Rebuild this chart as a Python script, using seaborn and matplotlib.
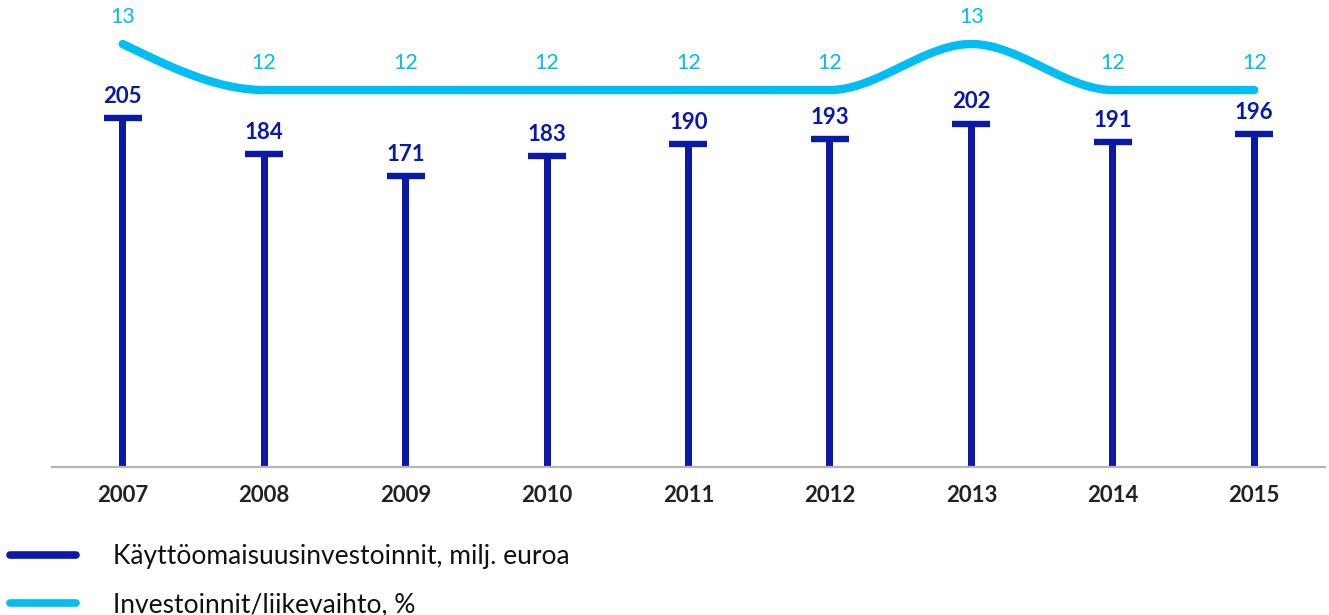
import numpy as np
import matplotlib
matplotlib.use("Agg")
import matplotlib.pyplot as plt
from matplotlib.lines import Line2D
import seaborn as sns

# Data
years = ["2007", "2008", "2009", "2010", "2011", "2012", "2013", "2014", "2015"]
capex = [205, 184, 171, 183, 190, 193, 202, 191, 196]          # milj. euroa
invest_ratio = [13, 12, 12, 12, 12, 12, 13, 12, 12]             # %

DARK = "#0A1AA6"
LIGHT = "#00BDF2"
FONT = "Lato"

sns.set_theme(style="white")
plt.rcParams["font.family"] = [FONT, "DejaVu Sans"]


def monotone_curve(y, samples=60):
    """Monotone cubic Hermite curve through equally spaced points."""
    y = np.asarray(y, dtype=float)
    n = len(y)
    s = np.diff(y)
    t = np.zeros(n)
    for i in range(1, n - 1):
        s0, s1 = s[i - 1], s[i]
        p = (s0 + s1) / 2
        t[i] = (np.sign(s0) + np.sign(s1)) * min(abs(s0), abs(s1), 0.5 * abs(p))
    t[0] = (3 * s[0] - t[1]) / 2
    t[-1] = (3 * s[-1] - t[-2]) / 2
    xs, ys = [], []
    for i in range(n - 1):
        u = np.linspace(0, 1, samples, endpoint=(i == n - 2))
        h00 = 2 * u**3 - 3 * u**2 + 1
        h10 = u**3 - 2 * u**2 + u
        h01 = -2 * u**3 + 3 * u**2
        h11 = u**3 - u**2
        xs.append(i + u)
        ys.append(h00 * y[i] + h10 * t[i] + h01 * y[i + 1] + h11 * t[i + 1])
    return np.concatenate(xs), np.concatenate(ys)


fig = plt.figure(figsize=(13.29, 6.15), dpi=100)
W, H = 1329, 615
ax_left, ax_right = 52 / W, 1325 / W
ax_bottom, ax_top = (H - 467) / H, (H - 10) / H
ax = fig.add_axes([ax_left, ax_bottom, ax_right - ax_left, ax_top - ax_bottom])

# Stems
sns.barplot(x=years, y=capex, width=0.05, color=DARK, saturation=1,
            edgecolor="none", linewidth=0, ax=ax)
# Caps on the stems
sns.scatterplot(x=years, y=capex, marker="_", s=720, linewidth=4.6,
                color=DARK, edgecolor=DARK, ax=ax, zorder=3, legend=False)

ax.set_xlim(-0.5, 8.5)
ax.set_ylim(0, 457 / 1.70)
for i, v in enumerate(capex):
    ax.annotate(str(v), (i, v), xytext=(0, 8), textcoords="offset points",
                ha="center", va="bottom", fontsize=16, fontweight="bold",
                color=DARK, family=[FONT, "DejaVu Sans"])

for side in ["top", "right", "left"]:
    ax.spines[side].set_visible(False)
ax.spines["bottom"].set_color("#B5B5B5")
ax.spines["bottom"].set_linewidth(1.6)
ax.set_yticks([])
ax.set_xlabel("")
ax.set_ylabel("")
ax.tick_params(axis="x", length=0, pad=13, labelsize=16, labelcolor="#222222")
for lab in ax.get_xticklabels():
    lab.set_fontweight("bold")

# Ratio line on its own scale
ax2 = ax.twinx()
cx, cy = monotone_curve(invest_ratio)
sns.lineplot(x=cx, y=cy, color=LIGHT, linewidth=6.0, ax=ax2, sort=False)
for line in ax2.get_lines():
    line.set_solid_capstyle("round")
ax2.set_xlim(-0.5, 8.5)
px_per_unit = 46
lo = 12 - (467 - 90) / px_per_unit
ax2.set_ylim(lo, lo + 457 / px_per_unit)
for i, v in enumerate(invest_ratio):
    ax2.annotate(str(v), (i, v), xytext=(0, 12.5), textcoords="offset points",
                 ha="center", va="bottom", fontsize=15.5, color=LIGHT,
                 family=[FONT, "DejaVu Sans"])
ax2.set_yticks([])
ax2.set_ylabel("")
for side in ["top", "right", "left", "bottom"]:
    ax2.spines[side].set_visible(False)

# Legend
handles = [
    Line2D([], [], color=DARK, linewidth=5.5, solid_capstyle="round"),
    Line2D([], [], color=LIGHT, linewidth=5.5, solid_capstyle="round"),
]
labels = ["Käyttöomaisuusinvestoinnit, milj. euroa", "Investoinnit/liikevaihto, %"]
fig.legend(handles, labels, loc="upper left", bbox_to_anchor=(10 / W, 1 - 544 / H),
           frameon=False, fontsize=19, handlelength=2.5, handletextpad=1.4,
           labelspacing=0.88, borderpad=0, borderaxespad=0, labelcolor="#111111")

fig.savefig("out.png", dpi=100)
